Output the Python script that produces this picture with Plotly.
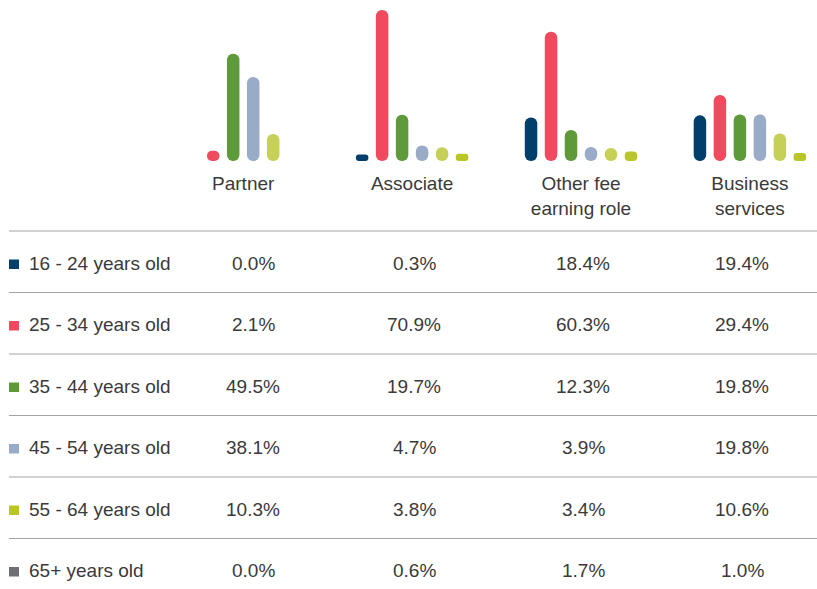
import plotly.graph_objects as go

# ---------------- data ----------------
roles = ["Partner", "Associate", "Other fee earning role", "Business services"]
role_labels = ["Partner", "Associate", "Other fee<br>earning role", "Business<br>services"]
age_groups = ["16 - 24 years old", "25 - 34 years old", "35 - 44 years old",
              "45 - 54 years old", "55 - 64 years old", "65+ years old"]
age_16_24 = [0.0, 0.3, 18.4, 19.4]
age_25_34 = [2.1, 70.9, 60.3, 29.4]
age_35_44 = [49.5, 19.7, 12.3, 19.8]
age_45_54 = [38.1, 4.7, 3.9, 19.8]
age_55_64 = [10.3, 3.8, 3.4, 10.6]
age_65_plus = [0.0, 0.6, 1.7, 1.0]
series = [age_16_24, age_25_34, age_35_44, age_45_54, age_55_64, age_65_plus]

# ---------------- styles ----------------
bar_colors = ["#003e6c", "#ef4a5d", "#5f9a3a", "#99abc6", "#c6d057", "#b9c628"]
legend_colors = ["#003e6c", "#ef4a5d", "#5f9a3a", "#99abc6", "#b9c628", "#6e6f73"]
W, H = 817, 589
FONT = "Liberation Sans, Arial, Helvetica, sans-serif"
TXT = "#3a3a3a"
LINE = "#a3a3a3"
FS = 19

BASELINE_PX = 161
PX_PER_UNIT = 2.046
STUB = 2.9  # small stub so that tiny non-zero bars remain visible

ROW_LINE0 = 231
ROW_PITCH = 61.5
ROW_TEXT_OFF = 32
COL_X = [253, 414, 583, 742]
LABEL_X = 27
SQ_X0, SQ_SIZE = 9, 10


def px(x):
    return x / W


def py(y):
    return 1 - y / H


fig = go.Figure()
for name, vals, col in zip(age_groups, series, bar_colors):
    fig.add_trace(go.Bar(
        x=roles,
        y=[v + STUB if v > 0 else 0 for v in vals],
        base=[-STUB if v > 0 else 0 for v in vals],
        customdata=vals,
        hovertemplate="%{x}<br>" + name + ": %{customdata:.1f}%<extra></extra>",
        name=name,
        marker=dict(color=col, line=dict(width=0)),
        showlegend=False,
    ))

annotations = []
shapes = []
for i, (name, vals) in enumerate(zip(age_groups, series)):
    line_y = ROW_LINE0 + i * ROW_PITCH
    text_y = line_y + ROW_TEXT_OFF
    shapes.append(dict(type="line", xref="paper", yref="paper",
                       x0=px(9), x1=1, y0=py(line_y), y1=py(line_y),
                       line=dict(color=LINE, width=1.2)))
    shapes.append(dict(type="rect", xref="paper", yref="paper",
                       x0=px(SQ_X0), x1=px(SQ_X0 + SQ_SIZE),
                       y0=py(text_y + 6), y1=py(text_y - 3.5),
                       fillcolor=legend_colors[i], line=dict(width=0)))
    annotations.append(dict(xref="paper", yref="paper", x=px(LABEL_X), y=py(text_y),
                            xanchor="left", yanchor="middle", showarrow=False,
                            text=name, font=dict(family=FONT, size=FS, color=TXT)))
    for cx, v in zip(COL_X, vals):
        annotations.append(dict(xref="paper", yref="paper", x=px(cx), y=py(text_y),
                                xanchor="center", yanchor="middle", showarrow=False,
                                text=f"{v:.1f}%", font=dict(family=FONT, size=FS, color=TXT)))

spacing = 168.9
center_mean = 496.55
r0 = 1.5 - center_mean / spacing
r1 = r0 + W / spacing

fig.update_layout(
    width=W, height=H,
    margin=dict(l=0, r=0, t=0, b=0),
    paper_bgcolor="white", plot_bgcolor="white",
    barmode="group", bargap=0.29, bargroupgap=0.375, barcornerradius=6,
    xaxis=dict(range=[r0, r1], tickvals=roles, ticktext=role_labels,
               showgrid=False, zeroline=False, showline=False, ticks="",
               ticklabelstandoff=9,
               tickfont=dict(family=FONT, size=FS, color=TXT), fixedrange=True),
    yaxis=dict(domain=[py(BASELINE_PX), 1],
               range=[-STUB, -STUB + BASELINE_PX / PX_PER_UNIT],
               visible=False, fixedrange=True),
    annotations=annotations,
    shapes=shapes,
)

fig.write_html("out.html", config={"displayModeBar": False},
               post_script="document.body.style.margin='0';document.body.style.overflow='hidden';")
